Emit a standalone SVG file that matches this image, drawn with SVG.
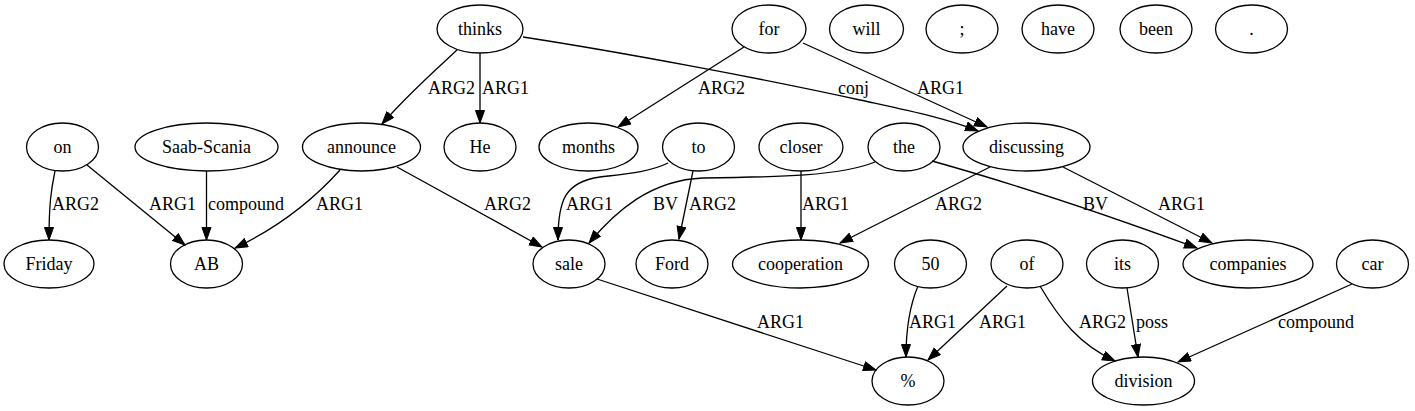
<svg xmlns="http://www.w3.org/2000/svg" width="1415" height="411" viewBox="0 0 1415 411" font-family="Liberation Serif, DejaVu Serif, serif" font-size="18">
<style>
.n ellipse{fill:none;stroke:#000;stroke-width:1.3}
.n text{text-anchor:middle}
.e path{fill:none;stroke:#000;stroke-width:1.3;marker-end:url(#ah)}
</style>
<defs>
<marker id="ah" markerWidth="14" markerHeight="11" refX="13" refY="5" orient="auto" markerUnits="userSpaceOnUse">
<path d="M0.5,0.5 L13,5 L0.5,9.5 z" fill="#000" stroke="#000" stroke-width="1"/>
</marker>
</defs>
<rect width="1415" height="411" fill="#fff"/>
<g id="nodes" font-family="Liberation Serif, DejaVu Serif, serif">
<g class="n" id="n-thinks"><ellipse cx="480" cy="29" rx="43" ry="24"/><text x="480" y="35">thinks</text></g>
<g class="n" id="n-for"><ellipse cx="769" cy="29" rx="37" ry="24"/><text x="769" y="35">for</text></g>
<g class="n" id="n-will"><ellipse cx="866.5" cy="29" rx="37" ry="24"/><text x="866.5" y="35">will</text></g>
<g class="n" id="n-semi"><ellipse cx="962" cy="29" rx="36" ry="24"/><text x="962" y="35">;</text></g>
<g class="n" id="n-have"><ellipse cx="1058" cy="29" rx="36" ry="24"/><text x="1058" y="35">have</text></g>
<g class="n" id="n-been"><ellipse cx="1156" cy="29" rx="36" ry="24"/><text x="1156" y="35">been</text></g>
<g class="n" id="n-dot"><ellipse cx="1251.5" cy="29" rx="36" ry="24"/><text x="1251.5" y="35">.</text></g>

<g class="n" id="n-on"><ellipse cx="62.5" cy="147" rx="36" ry="24"/><text x="62.5" y="153">on</text></g>
<g class="n" id="n-saab"><ellipse cx="206.5" cy="147" rx="71.5" ry="24"/><text x="206.5" y="153">Saab-Scania</text></g>
<g class="n" id="n-announce"><ellipse cx="361.5" cy="147" rx="59" ry="24"/><text x="361.5" y="153">announce</text></g>
<g class="n" id="n-he"><ellipse cx="480" cy="147" rx="36" ry="24"/><text x="480" y="153">He</text></g>
<g class="n" id="n-months"><ellipse cx="588.5" cy="147" rx="49.5" ry="24"/><text x="588.5" y="153">months</text></g>
<g class="n" id="n-to"><ellipse cx="698.5" cy="147" rx="36" ry="24"/><text x="698.5" y="153">to</text></g>
<g class="n" id="n-closer"><ellipse cx="801" cy="147" rx="42" ry="24"/><text x="801" y="153">closer</text></g>
<g class="n" id="n-the"><ellipse cx="904" cy="147" rx="36" ry="24"/><text x="904" y="153">the</text></g>
<g class="n" id="n-discussing"><ellipse cx="1026.5" cy="147" rx="63.5" ry="24"/><text x="1026.5" y="153">discussing</text></g>

<g class="n" id="n-friday"><ellipse cx="49" cy="264" rx="45" ry="24"/><text x="49" y="270">Friday</text></g>
<g class="n" id="n-ab"><ellipse cx="206.5" cy="264" rx="36" ry="24"/><text x="206.5" y="270">AB</text></g>
<g class="n" id="n-sale"><ellipse cx="569" cy="264" rx="36" ry="24"/><text x="569" y="270">sale</text></g>
<g class="n" id="n-ford"><ellipse cx="672" cy="264" rx="36" ry="24"/><text x="672" y="270">Ford</text></g>
<g class="n" id="n-cooperation"><ellipse cx="800.5" cy="264" rx="68" ry="24"/><text x="800.5" y="270">cooperation</text></g>
<g class="n" id="n-50"><ellipse cx="930.5" cy="264" rx="36" ry="24"/><text x="930.5" y="270">50</text></g>
<g class="n" id="n-of"><ellipse cx="1027" cy="264" rx="36" ry="24"/><text x="1027" y="270">of</text></g>
<g class="n" id="n-its"><ellipse cx="1122.5" cy="264" rx="36" ry="24"/><text x="1122.5" y="270">its</text></g>
<g class="n" id="n-companies"><ellipse cx="1248" cy="264" rx="65" ry="24"/><text x="1248" y="270">companies</text></g>
<g class="n" id="n-car"><ellipse cx="1372.5" cy="264" rx="36" ry="24"/><text x="1372.5" y="270">car</text></g>

<g class="n" id="n-pct"><ellipse cx="908" cy="381" rx="36" ry="24"/><text x="908" y="387">%</text></g>
<g class="n" id="n-division"><ellipse cx="1143.5" cy="381" rx="51" ry="24"/><text x="1143.5" y="387">division</text></g>
</g>
<g class="e" id="edges">
<path d="M457,50 C440,66 410,92 382,124"/>
<path d="M480,53 L480,123"/>
<path d="M523,37 C620,52 760,78 860,100 C910,111 945,118 978,131"/>
<path d="M744,47 L618,127"/>
<path d="M803,43 L987,127"/>
<path d="M55,171 C51,190 49,205 49,240"/>
<path d="M87,165 L185,245"/>
<path d="M206.5,171 L206.5,240"/>
<path d="M340,170 C322,190 290,222 235,248"/>
<path d="M397,167 L542,247"/>
<path d="M668,163 C650,172 625,174 600,177 C565,182 558,200 558,240"/>
<path d="M693,171 L679,239"/>
<path d="M875,162 C840,176 780,177 703,178 C650,180 615,212 589,243"/>
<path d="M801,171 L801,240"/>
<path d="M990,167 L840,243"/>
<path d="M932,161 C1000,180 1080,205 1197,248"/>
<path d="M1063,167 L1212,243"/>
<path d="M597,279 L876,370"/>
<path d="M918,286 C910,305 906,325 906,357"/>
<path d="M1007,286 L928,360"/>
<path d="M1040,286 C1060,320 1080,345 1115,361"/>
<path d="M1127,288 L1138,357"/>
<path d="M1352,284 L1178,362"/>
</g>
<g id="labels" font-family="Liberation Serif, DejaVu Serif, serif">
<text x="428" y="94">ARG2</text>
<text x="482" y="94">ARG1</text>
<text x="838" y="94">conj</text>
<text x="698" y="94">ARG2</text>
<text x="917" y="94">ARG1</text>
<text x="52" y="210">ARG2</text>
<text x="149" y="210">ARG1</text>
<text x="208" y="210">compound</text>
<text x="316" y="210">ARG1</text>
<text x="484" y="210">ARG2</text>
<text x="566" y="210">ARG1</text>
<text x="689" y="210">ARG2</text>
<text x="653" y="210">BV</text>
<text x="802" y="210">ARG1</text>
<text x="935" y="210">ARG2</text>
<text x="1083" y="210">BV</text>
<text x="1158" y="210">ARG1</text>
<text x="757" y="328">ARG1</text>
<text x="909" y="328">ARG1</text>
<text x="979" y="328">ARG1</text>
<text x="1079" y="328">ARG2</text>
<text x="1136" y="328">poss</text>
<text x="1278" y="328">compound</text>
</g>
</svg>
